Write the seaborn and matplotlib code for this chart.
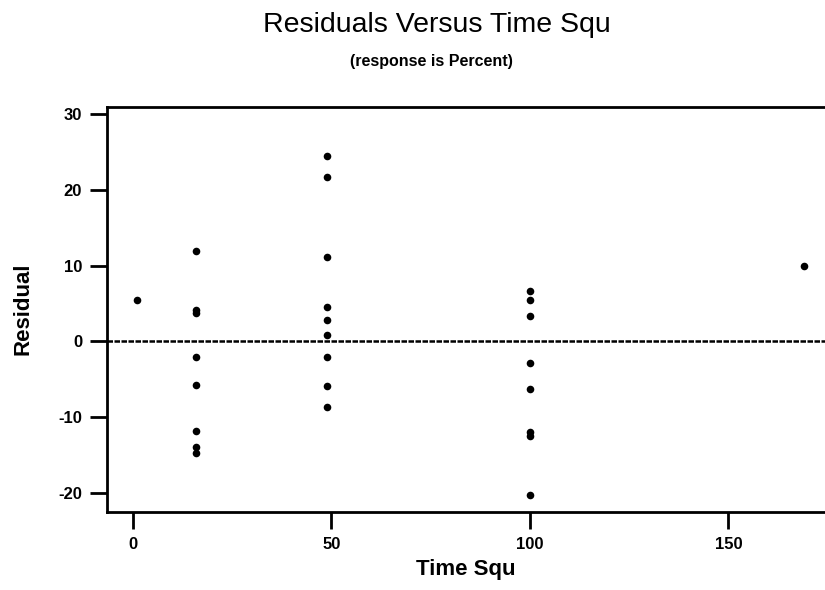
import matplotlib
matplotlib.use("Agg")
import matplotlib.pyplot as plt
import seaborn as sns
import pandas as pd

# Data
time_squ = [1,
            16, 16, 16, 16, 16, 16, 16, 16,
            49, 49, 49, 49, 49, 49, 49, 49, 49,
            100, 100, 100, 100, 100, 100, 100, 100,
            169]
residual = [5.5,
            11.9, 4.1, 3.7, -2.1, -5.7, -11.8, -14.0, -14.8,
            24.5, 21.7, 11.1, 4.5, 2.8, 0.8, -2.1, -5.9, -8.7,
            6.6, 5.5, 3.3, -2.8, -6.3, -12.0, -12.5, -20.3,
            10.0]
x_ticks = [0, 50, 100, 150]
y_ticks = [-20, -10, 0, 10, 20, 30]

df = pd.DataFrame({"Time Squ": time_squ, "Residual": residual})

sns.set_style("white")
plt.rcParams['font.family'] = ['Liberation Sans', 'DejaVu Sans']
plt.rcParams['text.color'] = 'black'
plt.rcParams['axes.labelcolor'] = 'black'

fig = plt.figure(figsize=(8.25, 5.9), dpi=100)
ax = fig.add_axes([107/825, (590-511.7)/590, 1 - 107/825, (511.7-106.7)/590])

sns.scatterplot(data=df, x="Time Squ", y="Residual", ax=ax, color="black",
                s=30, edgecolor="black", linewidth=0, zorder=3)
ax.axhline(0, color="black", linewidth=1.8, linestyle=(0, (2.2, 0.6)), zorder=2)

ax.set_xlim(-6.5, 174.3)
ax.set_ylim(-22.5, 31.0)
ax.set_xticks(x_ticks)
ax.set_yticks(y_ticks)
ax.set_xticklabels([str(v) for v in x_ticks])
ax.set_yticklabels([str(v) for v in y_ticks])

for side in ["left", "top", "bottom"]:
    ax.spines[side].set_visible(True)
    ax.spines[side].set_linewidth(2)
    ax.spines[side].set_color("black")
ax.spines["right"].set_visible(False)

ax.tick_params(axis="both", direction="out", length=12, width=2, color="black",
               labelsize=12, labelcolor="black", bottom=True, left=True, pad=6)
for lab in ax.get_xticklabels() + ax.get_yticklabels():
    lab.set_fontweight("bold")

ax.set_xlabel("Time Squ", fontsize=16, fontweight="bold", labelpad=5)
ax.set_ylabel("Residual", fontsize=16, fontweight="bold", labelpad=18)

fig.text(437/825, 1 - 32/590, "Residuals Versus Time Squ", ha="center", va="baseline",
         fontsize=20.5, color="black")
fig.text(431/825, 1 - 66/590, "(response is Percent)", ha="center", va="baseline",
         fontsize=11.5, fontweight="bold", color="black")

fig.savefig("out.png", dpi=100)
